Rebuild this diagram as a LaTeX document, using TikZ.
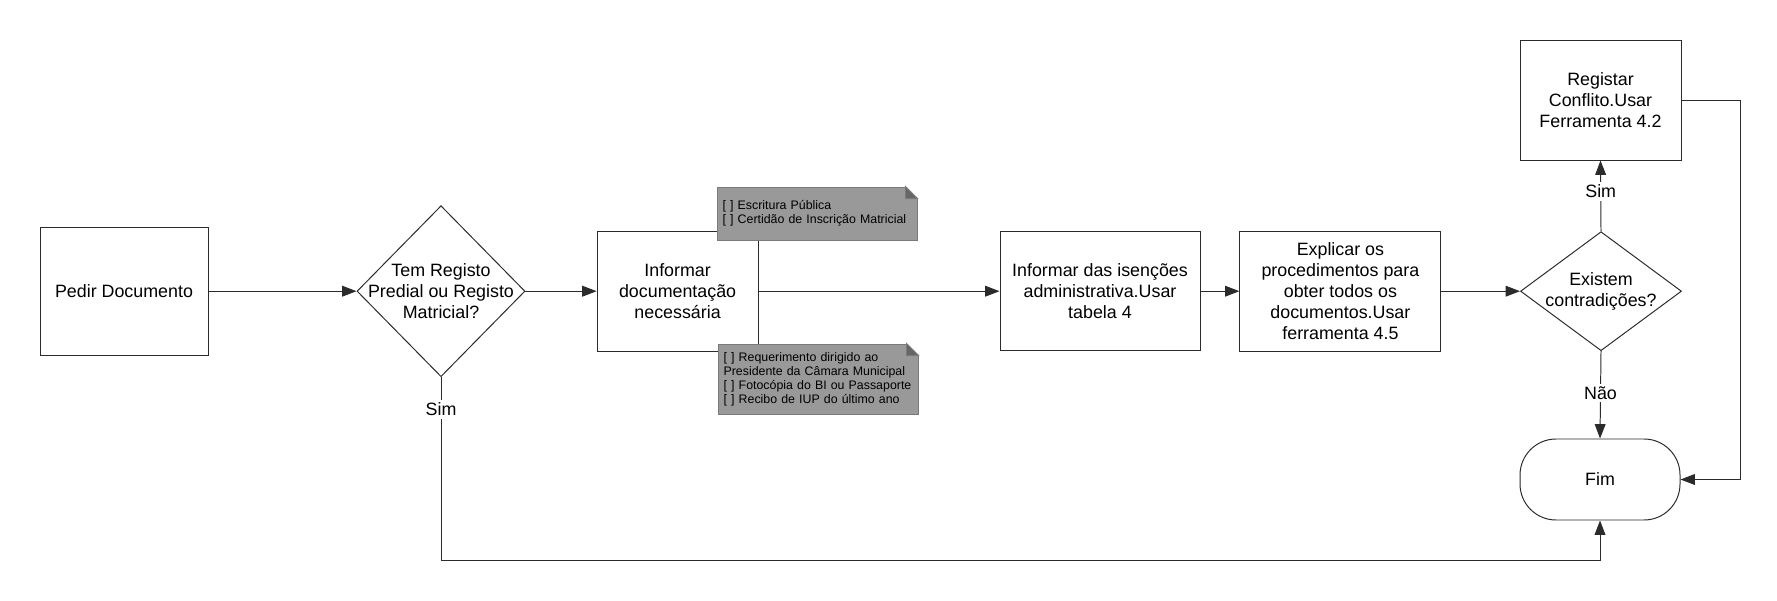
\documentclass[tikz,border=0pt]{standalone}
\usepackage{fontspec}
\setmainfont{Liberation Sans}
\usetikzlibrary{shapes.geometric,arrows.meta}

\definecolor{linegray}{HTML}{2B2B2B}
\definecolor{notegray}{HTML}{999999}
\definecolor{noteline}{HTML}{7A7A7A}
\definecolor{foldgray}{HTML}{666666}

\newcommand{\mainfnt}{\fontsize{12.7}{14.8}\selectfont}
\newcommand{\notefnt}{\fontsize{8.8}{9.9}\selectfont}

\tikzset{
  box/.style={draw=linegray, fill=white, align=center, inner sep=0pt, font=\mainfnt},
  decision/.style={diamond, draw=linegray, fill=white, inner sep=0pt},
  txt/.style={align=center, inner sep=0pt, font=\mainfnt},
  endbox/.style={draw=linegray, fill=white, rounded corners=0.9cm, inner sep=0pt, font=\mainfnt},
  note/.style={fill=notegray, draw=noteline, text width=4.72cm, align=left, inner xsep=0.14cm, font=\notefnt},
  conn/.style={->, draw=linegray},
  lbl/.style={fill=white, inner sep=2pt, font=\mainfnt}
}

\begin{document}
\begin{tikzpicture}[x=1cm,y=1cm, line width=0.7pt, >={Triangle[length=3.6mm,width=2.7mm]}]
  \useasboundingbox (0,0) rectangle (44.425,15);

  % main row
  \node[box, minimum width=4.2cm, minimum height=3.2cm] (pedir) at (3.1,7.72) {Pedir Documento};
  \node[decision, minimum width=4.2cm, minimum height=4.275cm] (dec1) at (11.025,7.72) {};
  \node[txt] (dec1txt) at (dec1) {Tem Registo\\Predial ou Registo\\Matricial?};
  \node[box, minimum width=4.025cm, minimum height=3cm] (info) at (16.94,7.72) {Informar\\documentação\\necessária};
  \node[box, minimum width=5cm, minimum height=2.975cm] (isen) at (27.5,7.72) {Informar das isenções\\administrativa.Usar\\tabela 4};
  \node[box, minimum width=5.025cm, minimum height=3cm] (expl) at (33.51,7.72) {Explicar os\\procedimentos para\\obter todos os\\documentos.Usar\\ferramenta 4.5};
  \node[decision, minimum width=4.025cm, minimum height=2.975cm] (dec2) at (40.025,7.72) {};
  \node[txt] (dec2txt) at (dec2) {Existem\\contradições?};

  % right column
  \node[box, minimum width=4.025cm, minimum height=3cm] (reg) at (40.0125,12.5) {Registar\\Conflito.Usar\\Ferramenta 4.2};
  \node[endbox, minimum width=4cm, minimum height=2.025cm] (fim) at (40,3.0125) {Fim};

  % notes
  \node[note, minimum height=1.325cm] (note1) at (20.425,9.66) {[ ] Escritura Pública\\{}[ ] Certidão de Inscrição Matricial};
  \node[note, minimum height=1.75cm] (note2) at (20.45,5.525) {[ ] Requerimento dirigido ao\\Presidente da Câmara Municipal\\{}[ ] Fotocópia do BI ou Passaporte\\{}[ ] Recibo de IUP do último ano};
  \foreach \n in {note1,note2} {
    \fill[white] ([xshift=-3mm,yshift=0.6pt]\n.north east) -- ([xshift=0.6pt,yshift=0.6pt]\n.north east) -- ([xshift=0.6pt,yshift=-3mm]\n.north east) -- cycle;
    \filldraw[fill=foldgray, draw=noteline] ([xshift=-3mm]\n.north east) -- ([xshift=-3mm,yshift=-3mm]\n.north east) -- ([yshift=-3mm]\n.north east) -- cycle;
  }

  \coordinate (bot) at (11.025,1.0);
  \coordinate (rgt) at (43.5,12.5);

  % connectors
  \draw[conn] (pedir.east) -- (dec1.west);
  \draw[conn] (dec1.east) -- (info.west);
  \draw[conn] (info.east) -- (isen.west);
  \draw[conn] (isen.east) -- (expl.west);
  \draw[conn] (expl.east) -- (dec2.west);
  \draw[conn] (dec2.north) -- node[lbl, pos=0.56] {Sim} (reg.south);
  \draw[conn] (dec2.south) -- node[lbl, pos=0.48] {Não} (fim.north);
  \draw[conn] (reg.east) -- (rgt) |- (fim.east);
  \draw[conn] (dec1.south) -- node[lbl, pos=0.176] {Sim} (bot) -| (fim.south);
\end{tikzpicture}
\end{document}
